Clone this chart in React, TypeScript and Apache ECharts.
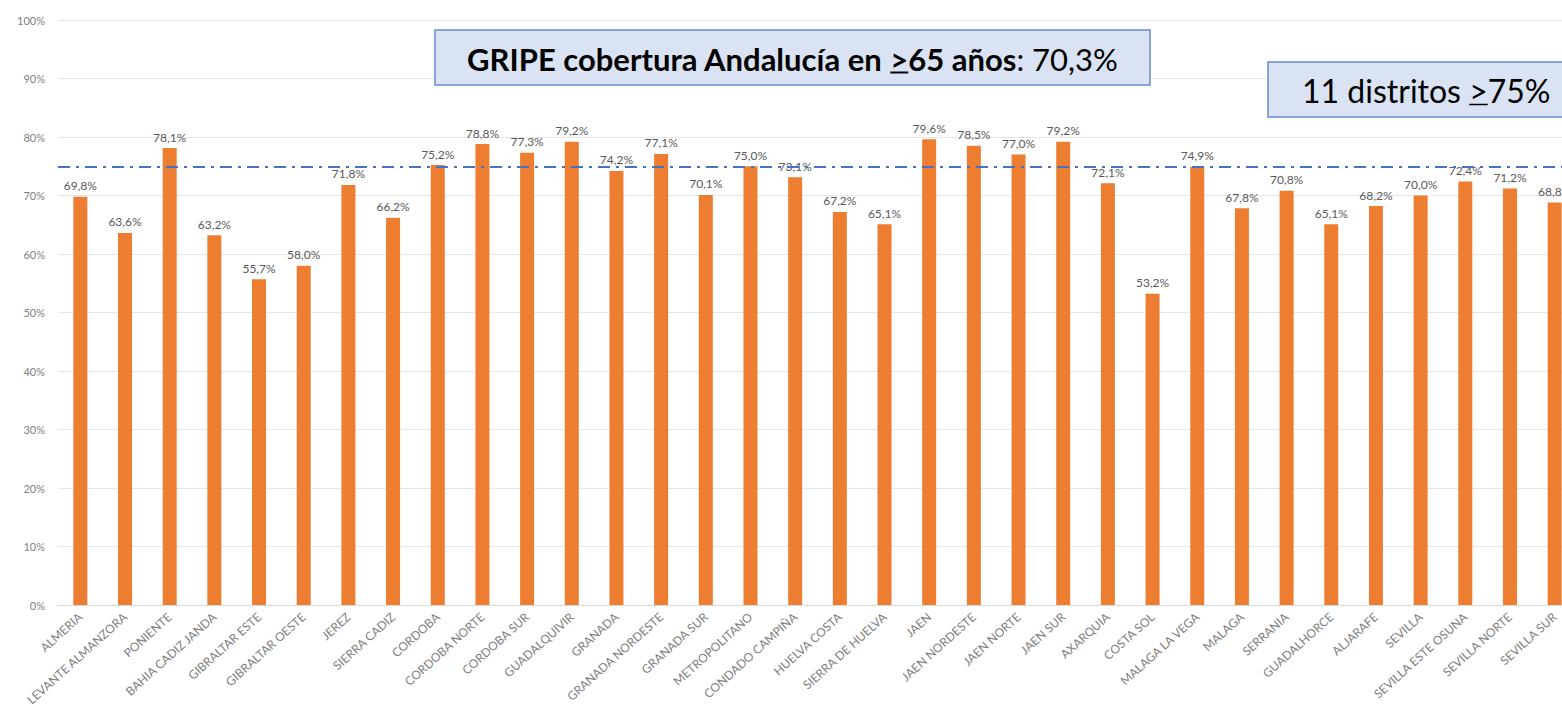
import React, { useEffect, useRef } from "react";
import * as echarts from "echarts";

const categories = [
  "ALMERIA", "LEVANTE ALMANZORA", "PONIENTE", "BAHIA CADIZ JANDA", "GIBRALTAR ESTE",
  "GIBRALTAR OESTE", "JEREZ", "SIERRA CADIZ", "CORDOBA", "CORDOBA NORTE", "CORDOBA SUR",
  "GUADALQUIVIR", "GRANADA", "GRANADA NORDESTE", "GRANADA SUR", "METROPOLITANO",
  "CONDADO CAMPIÑA", "HUELVA COSTA", "SIERRA DE HUELVA", "JAEN", "JAEN NORDESTE",
  "JAEN NORTE", "JAEN SUR", "AXARQUIA", "COSTA SOL", "MALAGA LA VEGA", "MALAGA",
  "SERRANIA", "GUADALHORCE", "ALJARAFE", "SEVILLA", "SEVILLA ESTE OSUNA",
  "SEVILLA NORTE", "SEVILLA SUR",
];

const coverage = [
  69.8, 63.6, 78.1, 63.2, 55.7, 58.0, 71.8, 66.2, 75.2, 78.8, 77.3, 79.2, 74.2, 77.1,
  70.1, 75.0, 73.1, 67.2, 65.1, 79.6, 78.5, 77.0, 79.2, 72.1, 53.2, 74.9, 67.8, 70.8,
  65.1, 68.2, 70.0, 72.4, 71.2, 68.8,
];

const targetLine = 75;
const yTicks = [0, 10, 20, 30, 40, 50, 60, 70, 80, 90, 100];

const box1Bold1 = "GRIPE cobertura Andalucía en ";
const box1Ge = ">";
const box1Bold2 = "65 años";
const box1Normal = ": 70,3%";
const box2Text1 = "11 distritos ";
const box2Ge = ">";
const box2Text2 = "75%";

const FONT = "Lato, 'Open Sans', sans-serif";

function measure(text: string, font: string): number {
  const c = document.createElement("canvas");
  const ctx = c.getContext("2d")!;
  ctx.font = font;
  return ctx.measureText(text).width;
}

export default function App() {
  const ref = useRef<HTMLDivElement>(null);
  useEffect(() => {
    if (!ref.current) return;
    const chart = echarts.init(ref.current, null, { renderer: "svg" });

    const fs1 = 31;
    const boldFont = `bold ${fs1}px ${FONT}`;
    const normFont = `${fs1}px ${FONT}`;
    const w1 = measure(box1Bold1, boldFont);
    const wGe = measure(box1Ge, boldFont);
    const w2 = measure(box1Bold2, boldFont);
    const w3 = measure(box1Normal, normFont);
    const total1 = w1 + wGe + w2 + w3;
    const box1X = 435, box1Y = 30, box1W = 715, box1H = 55;
    const t1x = box1X + (box1W - total1) / 2;
    const t1y = box1Y + box1H / 2 + 1;

    const fs2 = 32;
    const f2 = `${fs2}px ${FONT}`;
    const v1 = measure(box2Text1, f2);
    const vGe = measure(box2Ge, f2);
    const box2X = 1268, box2Y = 62, box2W = 320, box2H = 55;
    const t2x = 1302;
    const t2y = box2Y + box2H / 2 + 1;

    const txt = (x: number, y: number, text: string, size: number, weight: string) => ({
      type: "text",
      x,
      y,
      style: {
        text,
        fontSize: size,
        fontFamily: FONT,
        fontWeight: weight,
        fill: "#000000",
        textVerticalAlign: "middle",
        textAlign: "left",
      },
      z: 101,
    });

    chart.setOption({
      animation: false,
      backgroundColor: "#ffffff",
      grid: { left: 58, right: 0, top: 20, bottom: 115, containLabel: false },
      xAxis: {
        type: "category",
        data: categories,
        axisLine: { show: true, lineStyle: { color: "#d9d9d9" } },
        axisTick: { show: false },
        axisLabel: {
          interval: 0,
          rotate: 42,
          fontSize: 12,
          color: "#7f7f7f",
          fontFamily: FONT,
          margin: 10,
        },
      },
      yAxis: {
        type: "value",
        min: 0,
        max: 100,
        interval: 10,
        axisLine: { show: false },
        axisTick: { show: false },
        splitLine: { lineStyle: { color: "#e6e6e6" } },
        axisLabel: {
          formatter: (v: number) => (yTicks.includes(v) ? `${v}%` : ""),
          fontSize: 11,
          color: "#7f7f7f",
          fontFamily: FONT,
          margin: 13,
        },
      },
      series: [
        {
          type: "bar",
          data: coverage,
          barWidth: 14,
          itemStyle: { color: "#ED7D31" },
          label: {
            show: true,
            position: "top",
            distance: 5,
            fontSize: 12,
            color: "#595959",
            fontFamily: FONT,
            formatter: (p: any) => `${p.value.toFixed(1).replace(".", ",")}%`,
          },
          markLine: {
            silent: true,
            symbol: "none",
            label: { show: false },
            lineStyle: { color: "#4472C4", width: 2, type: [12, 6, 3, 6] },
            data: [{ yAxis: targetLine }],
          },
        },
      ],
      graphic: [
        {
          type: "rect",
          shape: { x: box1X, y: box1Y, width: box1W, height: box1H },
          style: { fill: "#dae3f3", stroke: "#6a8bcb", lineWidth: 1.5 },
          z: 100,
        },
        txt(t1x, t1y, box1Bold1, fs1, "bold"),
        txt(t1x + w1, t1y, box1Ge, fs1, "bold"),
        txt(t1x + w1 + wGe, t1y, box1Bold2, fs1, "bold"),
        txt(t1x + w1 + wGe + w2, t1y, box1Normal, fs1, "normal"),
        {
          type: "line",
          shape: { x1: t1x + w1, y1: t1y + 14, x2: t1x + w1 + wGe, y2: t1y + 14 },
          style: { stroke: "#000000", lineWidth: 2 },
          z: 101,
        },
        {
          type: "rect",
          shape: { x: box2X, y: box2Y, width: box2W, height: box2H },
          style: { fill: "#dae3f3", stroke: "#6a8bcb", lineWidth: 1.5 },
          z: 100,
        },
        txt(t2x, t2y, box2Text1, fs2, "normal"),
        txt(t2x + v1, t2y, box2Ge, fs2, "normal"),
        txt(t2x + v1 + vGe, t2y, box2Text2, fs2, "normal"),
        {
          type: "line",
          shape: { x1: t2x + v1, y1: t2y + 14, x2: t2x + v1 + vGe, y2: t2y + 14 },
          style: { stroke: "#000000", lineWidth: 1.5 },
          z: 101,
        },
      ],
    });
    return () => chart.dispose();
  }, []);

  return (
    <div style={{ position: "fixed", left: 0, top: 0, width: 1562, height: 720, overflow: "hidden" }}>
      <div ref={ref} style={{ width: 1577, height: 720 }} />
    </div>
  );
}
